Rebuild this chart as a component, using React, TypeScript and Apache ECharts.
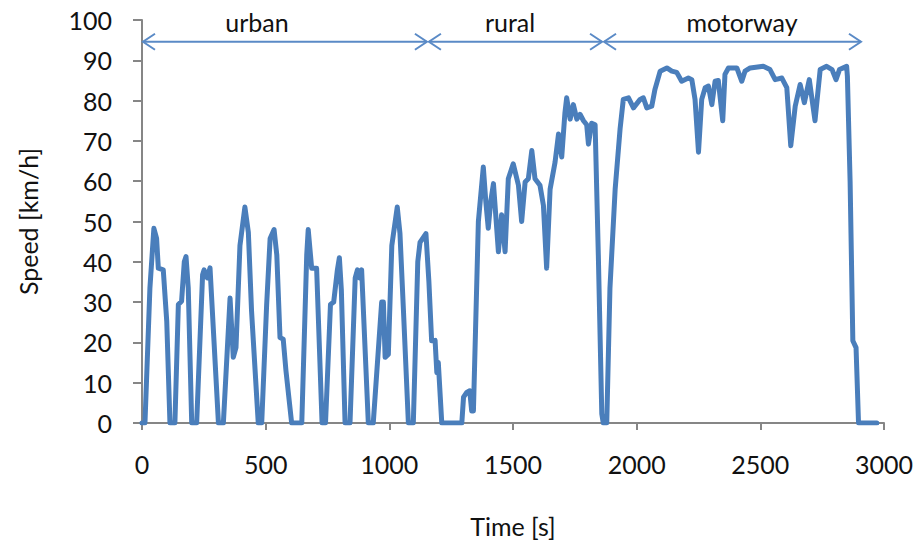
import React, { useEffect, useRef } from "react";
import * as echarts from "echarts";

const times: number[] = [
  0, 12, 32, 48, 59, 66, 86, 100, 113, 133,
  147, 160, 171, 178, 187, 201, 221,
  245, 251, 264, 275, 309, 329,
  356, 369, 380, 396, 416, 430, 443, 470, 484,
  504, 518, 534, 545, 558, 571, 582, 605, 646,
  666, 672, 686, 706, 728, 742,
  762, 775, 790, 798, 806, 821, 841,
  862, 871, 880, 888, 915, 935,
  969, 976, 983, 996, 1010, 1032, 1043, 1057, 1077, 1097,
  1115, 1124, 1148, 1160, 1171, 1185, 1192, 1198, 1212, 1293,
  1300, 1313, 1325, 1333, 1340, 1360, 1380, 1390, 1400, 1410,
  1421, 1441, 1454, 1468, 1481, 1501, 1522, 1535, 1549, 1562,
  1576, 1589, 1609, 1623, 1636, 1650, 1670, 1684, 1697, 1710,
  1717, 1731, 1744, 1758, 1771, 1785, 1798, 1805, 1818, 1832,
  1845, 1859, 1865, 1879, 1892, 1913, 1933, 1946,
  1967, 1987, 2014, 2027, 2041, 2061, 2074, 2095, 2122, 2142,
  2162, 2182, 2209, 2223, 2236, 2250, 2263, 2277, 2290, 2304,
  2317, 2330, 2348, 2357, 2371, 2405, 2425, 2438, 2459, 2512,
  2539, 2560, 2587, 2607, 2623, 2641, 2661, 2678, 2698, 2721,
  2742, 2768, 2790, 2806, 2820, 2849, 2852, 2863, 2874, 2887,
  2897, 2971,
];

const speeds: number[] = [
  0, 0, 33.5, 48.3, 45.8, 38.4, 38, 25.3, 0, 0,
  29.4, 30.2, 40, 41.3, 33.5, 0, 0,
  36.8, 38, 36, 38.5, 0, 0,
  31, 16.3, 18.7, 44, 53.6, 47.3, 27.7, 0, 0,
  29.4, 45.8, 48, 41.7, 21.2, 20.8, 13, 0, 0,
  41.7, 48, 38.4, 38.4, 0, 0,
  29.4, 30, 38, 41, 33, 0, 0,
  36, 38, 36, 38, 0, 0,
  30, 30, 16.3, 17, 44, 53.6, 47, 28, 0, 0,
  40, 44.8, 47, 35, 20.4, 20.5, 12.5, 15, 0, 0,
  6.4, 7.6, 8, 3, 3, 50, 63.5, 55, 48.3, 55,
  59.4, 42.5, 51.7, 42.5, 60.6, 64.3, 59, 50, 59.8, 60.6,
  67.6, 60.6, 59, 54, 38.4, 58, 64.7, 71.7, 66, 77,
  80.7, 75.4, 79, 75.4, 76.6, 75, 74, 69.2, 74.4, 74,
  41.7, 2.3, 0, 0, 33.5, 58, 73, 80.3,
  80.7, 78.2, 80.3, 80.7, 78.2, 78.6, 82.8, 87.3, 88.1, 87.3,
  87, 84.8, 85.6, 85.2, 80.3, 67.2, 80.3, 83.2, 83.6, 79,
  84.8, 85, 75, 86.5, 88.1, 88.1, 84.8, 87.3, 88.1, 88.5,
  87.7, 85.2, 85.6, 83.2, 68.8, 78.6, 84, 79.5, 85.2, 75,
  87.7, 88.5, 87.7, 85.2, 87.7, 88.5, 86, 59.8, 20.4, 18.7,
  0, 0,
];

// Phase annotations (data coordinates)
const phaseNames: string[] = ["urban", "rural", "motorway"];
const phaseStart: number[] = [0, 1156, 1864];
const phaseEnd: number[] = [1156, 1864, 2911];
const phaseLabelX: number[] = [465, 1488, 2426];
const arrowLevel = 94.6;
const labelLevel = 99.6;

const FONT = "Lato, 'Open Sans', sans-serif";
const AXIS_COLOR = "#868686";
const LINE_COLOR = "#4a7ebb";
const ARROW_COLOR = "#5a8ac6";

export default function App() {
  const ref = useRef<HTMLDivElement>(null);

  useEffect(() => {
    if (!ref.current) return;
    const chart = echarts.init(ref.current, null, { renderer: "svg" });
    const data = times.map((t, i) => [t, speeds[i]]);

    const option: any = {
      animation: false,
      backgroundColor: "#ffffff",
      grid: { left: 142, right: 37, top: 20, bottom: 116, containLabel: false },
      xAxis: {
        type: "value",
        min: 0,
        max: 3000,
        interval: 500,
        axisLine: { show: true, lineStyle: { color: AXIS_COLOR, width: 2 } },
        axisTick: { show: true, length: 7, lineStyle: { color: AXIS_COLOR, width: 2 } },
        splitLine: { show: false },
        axisLabel: {
          fontFamily: FONT,
          fontSize: 25,
          color: "#111",
          margin: 28,
          formatter: (v: number) => String(v),
        },
        name: "Time [s]",
        nameLocation: "middle",
        nameGap: 90,
        nameTextStyle: { fontFamily: FONT, fontSize: 25, color: "#111" },
      },
      yAxis: {
        type: "value",
        min: 0,
        max: 100,
        interval: 10,
        axisLine: { show: true, lineStyle: { color: AXIS_COLOR, width: 2 } },
        axisTick: { show: true, length: 9, lineStyle: { color: AXIS_COLOR, width: 2 } },
        splitLine: { show: false },
        axisLabel: {
          fontFamily: FONT,
          fontSize: 25,
          color: "#111",
          margin: 30,
          formatter: (v: number) => String(v),
        },
        name: "Speed [km/h]",
        nameLocation: "middle",
        nameGap: 102,
        nameRotate: 90,
        nameTextStyle: { fontFamily: FONT, fontSize: 25, color: "#111" },
      },
      series: [
        {
          type: "line",
          data,
          symbol: "none",
          showSymbol: false,
          lineStyle: { color: LINE_COLOR, width: 5, join: "round", cap: "round" },
          z: 3,
        },
      ],
    };
    chart.setOption(option);

    const graphics: any[] = [];
    phaseNames.forEach((name, i) => {
      const p0 = chart.convertToPixel({ gridIndex: 0 }, [phaseStart[i], arrowLevel]) as number[];
      const p1 = chart.convertToPixel({ gridIndex: 0 }, [phaseEnd[i], arrowLevel]) as number[];
      const pl = chart.convertToPixel({ gridIndex: 0 }, [phaseLabelX[i], labelLevel]) as number[];
      const y = p0[1];
      const ah = 13;
      const aw = 8;
      const st = { stroke: ARROW_COLOR, lineWidth: 2, fill: null };
      graphics.push({ type: "line", shape: { x1: p0[0] + 1, y1: y, x2: p1[0] - 1, y2: y }, style: st, z: 10 });
      graphics.push({
        type: "polyline",
        shape: { points: [[p0[0] + ah, y - aw], [p0[0] + 1, y], [p0[0] + ah, y + aw]] },
        style: st,
        z: 10,
      });
      graphics.push({
        type: "polyline",
        shape: { points: [[p1[0] - ah, y - aw], [p1[0] - 1, y], [p1[0] - ah, y + aw]] },
        style: st,
        z: 10,
      });
      graphics.push({
        type: "text",
        x: pl[0],
        y: pl[1],
        style: {
          text: name,
          fontFamily: FONT,
          fontSize: 25,
          fill: "#111",
          align: "center",
          verticalAlign: "middle",
        },
        z: 10,
      });
    });
    chart.setOption({ graphic: graphics });

    return () => chart.dispose();
  }, []);

  return <div ref={ref} style={{ width: 921, height: 543, position: "absolute", left: 0, top: 0 }} />;
}
